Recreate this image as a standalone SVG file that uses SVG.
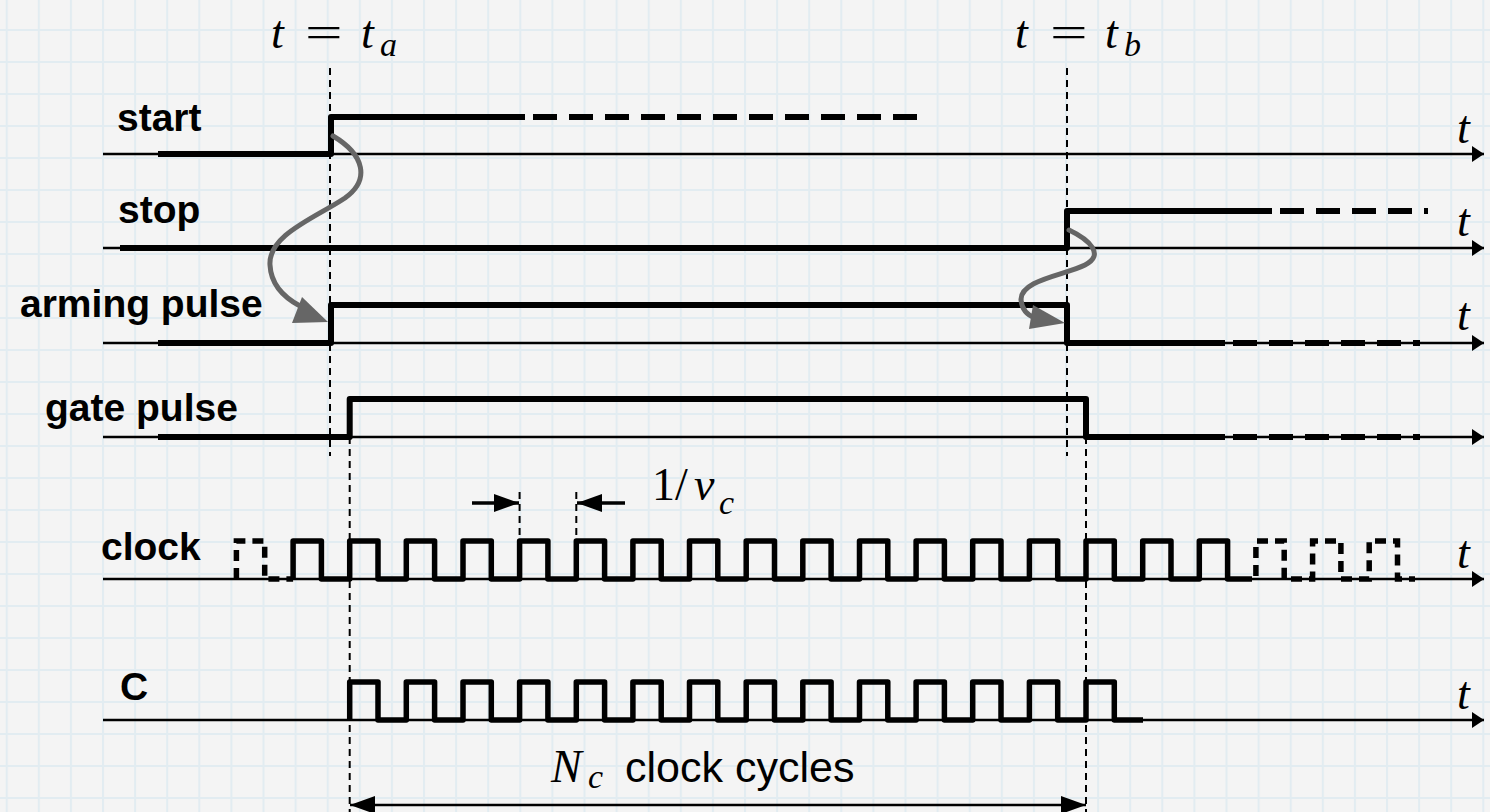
<svg xmlns="http://www.w3.org/2000/svg" width="1490" height="812" viewBox="0 0 1490 812">
<defs>
<pattern id="grid" patternUnits="userSpaceOnUse" x="5.7" y="-3" width="32.1" height="32">
<rect width="32.1" height="32" fill="#f4f4f4"/>
<path d="M1 0 V32 M0 1 H32.1" stroke="#e2ecf1" stroke-width="2" fill="none"/>
</pattern>
<marker id="ax" markerUnits="userSpaceOnUse" markerWidth="14" markerHeight="18" refX="12" refY="8" orient="auto" viewBox="0 0 14 16">
<path d="M0 0 L12 8 L0 16 Z" fill="#000"/>
</marker>
<marker id="ah" markerUnits="userSpaceOnUse" markerWidth="26" markerHeight="20" refX="25" refY="9" orient="auto-start-reverse" viewBox="0 0 26 18">
<path d="M0 0 L25 9 L0 18 Z" fill="#000"/>
</marker>
</defs>
<style>
.axis{stroke:#000;stroke-width:2.5;fill:none}
.sig{stroke:#000;stroke-width:6;fill:none;stroke-linejoin:round;stroke-linecap:butt}
.sigd{stroke:#000;stroke-width:6;fill:none;stroke-dasharray:24 12}
.clkd{stroke:#000;stroke-width:5.5;fill:none;stroke-dasharray:11 7}
.clk{stroke:#000;stroke-width:5.5;fill:none;stroke-linejoin:round}
.vd{stroke:#000;stroke-width:2;fill:none;stroke-dasharray:7 5}
.lbl{font-family:"Liberation Sans",Arial,sans-serif;font-weight:bold;font-size:39px;fill:#000}
.m{font-family:"Liberation Serif","Times New Roman",serif;font-style:italic;font-size:46px;fill:#000}
.mu{font-family:"Liberation Serif","Times New Roman",serif;font-size:46px;fill:#000}
.sub{font-family:"Liberation Serif","Times New Roman",serif;font-style:italic;font-size:34px;fill:#000}
.grey{stroke:#666;stroke-width:5;fill:none;stroke-linecap:round}
</style>
<rect width="1490" height="812" fill="url(#grid)"/>

<g id="timelines">
<text class="m" x="271" y="48">t</text>
<text class="mu" transform="translate(305,48) scale(1.45,1)">=</text>
<text class="m" x="361" y="48">t</text>
<text class="sub" x="380" y="56">a</text>
<path class="vd" d="M330 68 V456"/>
<text class="m" x="1015" y="48">t</text>
<text class="mu" transform="translate(1050,48) scale(1.45,1)">=</text>
<text class="m" x="1105" y="48">t</text>
<text class="sub" x="1124" y="56">b</text>
<path class="vd" d="M1067 68 V456"/>
<path class="vd" d="M349.7 437 V812"/>
<path class="vd" d="M1086 437 V812"/>
</g>

<g id="start">
<text class="lbl" x="117" y="131">start</text>
<path class="axis" d="M103 154 H1484" marker-end="url(#ax)"/>
<path class="sig" d="M158 154 H331 V117 H525"/>
<path class="sigd" d="M533 117 H925"/>
<text class="m" x="1457" y="143">t</text>
</g>

<g id="stop">
<text class="lbl" x="118" y="223">stop</text>
<path class="axis" d="M103 248 H1484" marker-end="url(#ax)"/>
<path class="sig" d="M120 248 H1067 V211 H1272"/>
<path class="sigd" d="M1280 211 H1428"/>
<text class="m" x="1457" y="236">t</text>
</g>

<g id="arming">
<text class="lbl" x="20" y="317">arming pulse</text>
<path class="axis" d="M103 343 H1484" marker-end="url(#ax)"/>
<path class="sig" d="M158 343 H331 V305 H1067 V343 H1225"/>
<path class="sigd" d="M1233 343 H1420"/>
<text class="m" x="1457" y="330">t</text>
</g>

<g id="gate">
<text class="lbl" x="45" y="421">gate pulse</text>
<path class="axis" d="M103 437 H1484" marker-end="url(#ax)"/>
<path class="sig" d="M158 437 H349.7 V399 H1086 V437 H1225"/>
<path class="sigd" d="M1233 437 H1420"/>
</g>

<g id="clock">
<text class="lbl" x="101" y="560">clock</text>
<path class="axis" d="M103 579 H1484" marker-end="url(#ax)"/>
<path class="clkd" d="M236.4 579 V541 H264.7 V579 H293.1"/>
<path class="clk" d="M293.1 579 V541 H321.4 V579 H349.7 V541 H378 V579 H406.3 V541 H434.6 V579 H463 V541 H491.3 V579 H519.6 V541 H547.9 V579 H576.3 V541 H604.6 V579 H632.9 V541 H661.2 V579 H689.5 V541 H717.8 V579 H746.2 V541 H774.5 V579 H802.8 V541 H831.1 V579 H859.5 V541 H887.8 V579 H916.1 V541 H944.4 V579 H972.7 V541 H1001 V579 H1029.4 V541 H1057.7 V579 H1086 V541 H1114.3 V579 H1142.7 V541 H1171 V579 H1199.3 V541 H1227.6 V579 H1241"/>
<path class="clkd" d="M1241 579 H1255.9 V541 H1284.2 V579 H1312.6 V541 H1340.9 V579 H1369.2 V541 H1397.5 V579 H1415"/>
<text class="m" x="1457" y="568">t</text>
<path class="vd" d="M519.6 492 V541"/>
<path class="vd" d="M576.3 492 V541"/>
<path d="M472 503 H519" stroke="#000" stroke-width="3.5" marker-end="url(#ah)"/>
<path d="M625 503 H577" stroke="#000" stroke-width="3.5" marker-end="url(#ah)"/>
<text class="mu" x="652" y="500">1/</text>
<text class="m" x="694" y="500" font-size="50">ν</text>
<text class="sub" x="719" y="514">c</text>
</g>

<g id="C">
<text class="lbl" x="120" y="700">C</text>
<path class="axis" d="M103 720 H1484" marker-end="url(#ax)"/>
<path class="clk" d="M349.7 720 V682 H378 V720 H406.3 V682 H434.6 V720 H463 V682 H491.3 V720 H519.6 V682 H547.9 V720 H576.3 V682 H604.6 V720 H632.9 V682 H661.2 V720 H689.5 V682 H717.8 V720 H746.2 V682 H774.5 V720 H802.8 V682 H831.1 V720 H859.5 V682 H887.8 V720 H916.1 V682 H944.4 V720 H972.7 V682 H1001 V720 H1029.4 V682 H1057.7 V720 H1086 V682 H1114.3 V720 H1143"/>
<text class="m" x="1457" y="709">t</text>
<text class="m" x="551" y="782" font-size="50">N</text>
<text class="sub" x="588" y="788">c</text>
<text x="625" y="782" font-family="Liberation Sans, Arial, sans-serif" font-size="43" fill="#000">clock cycles</text>
<path d="M350 805 H1086" stroke="#000" stroke-width="2.5" marker-start="url(#ah)" marker-end="url(#ah)"/>
</g>

<g id="connectors">
<path class="grey" d="M333 136 C365 155 370 180 345 198 C315 218 268 235 270 265 C271 285 285 298 300 306"/>
<path d="M302 297 L328 322 L292 323 Z" fill="#666"/>
<path class="grey" d="M1069 230 C1090 240 1105 255 1085 265 C1065 275 1020 280 1021 300 C1022 310 1027 315 1035 318"/>
<path d="M1033 305 L1065 323 L1029 329 Z" fill="#666"/>
</g>
</svg>
